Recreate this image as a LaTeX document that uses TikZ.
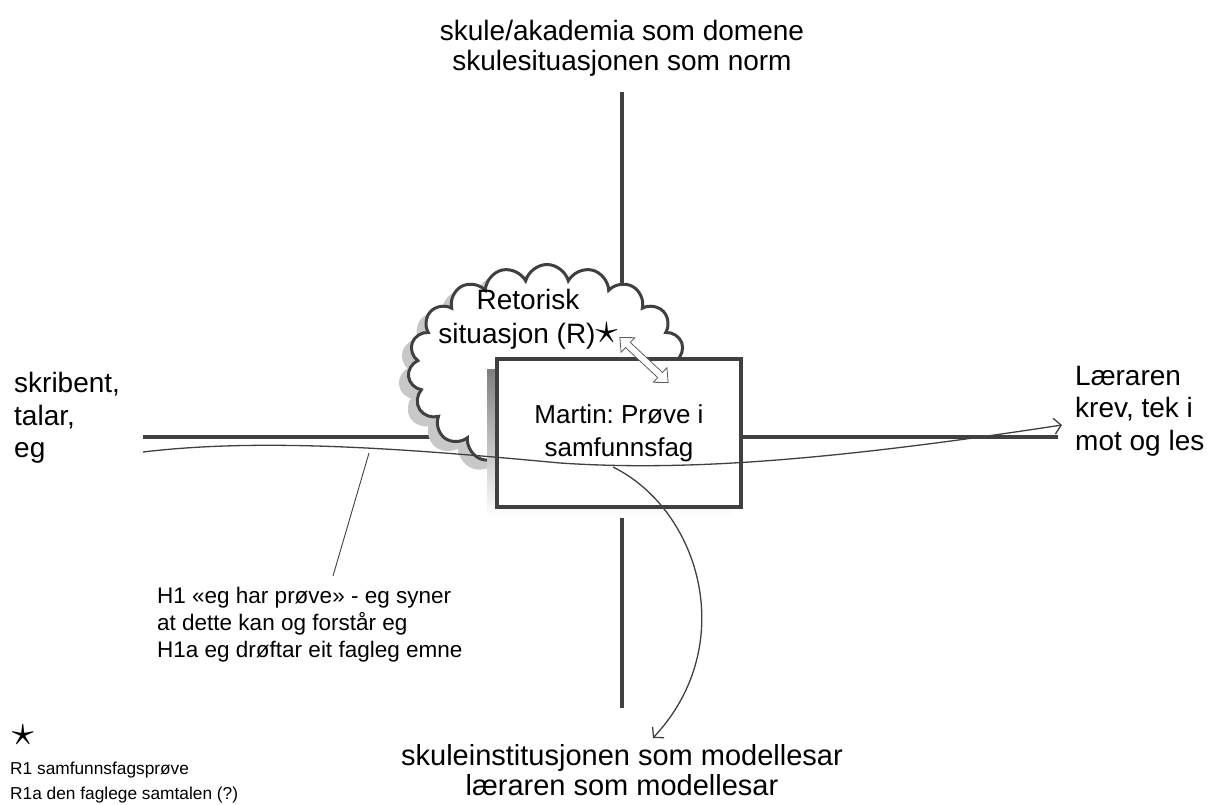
\documentclass[tikz,border=0pt]{standalone}
\usepackage{fontspec}
\setmainfont{Liberation Sans}
\usetikzlibrary{shapes.symbols,arrows.meta}
\definecolor{ink}{HTML}{404040}
\definecolor{shade}{HTML}{C8C8C8}

\begin{document}
\frenchspacing
\begin{tikzpicture}[x=1pt,y=-1pt,
  axis/.style={ink,line width=3.5pt},
  biglbl/.style={inner sep=0pt, font=\fontsize{28}{30}\selectfont},
  sidelbl/.style={inner sep=0pt, align=left, anchor=west, font=\fontsize{28}{32.5}\selectfont},
  thinline/.style={ink,line width=1.3pt},
  tip/.style={-{Straight Barb[length=7pt,width=16pt,line width=1.3pt]}},
  puffy/.style={cloud, cloud puffs=19, aspect=1.35, minimum width=278pt, minimum height=207pt, line width=3pt}
]
\useasboundingbox (0,0) rectangle (1210,805);

% axis end points
\coordinate (vtop) at (622,92);
\coordinate (vbot) at (622,708);
\coordinate (hleft) at (143,437);
\coordinate (hright) at (1058,437);

% the two axes
\draw[axis] (vtop) -- (vbot);
\draw[axis] (hleft) -- (hright);

% rhetorical situation cloud with its shadow
\node[puffy, fill=shade, draw=shade] (cloudshadow) at (539,376) {};
\node[puffy, fill=white, draw=ink] (cloud) at (547,368) {};
\node[inner sep=0pt, align=center, font=\fontsize{28}{34}\selectfont] (rettext) at (528,319)
  {Retorisk\\situasjon (R)\scalebox{1.8}{$\star$}};

% text box with its shadow
\fill[shade] (487,369) rectangle (731,517);
\node[draw=ink, line width=3.5pt, fill=white, minimum width=244pt, minimum height=148pt,
      inner sep=0pt, align=center, font=\fontsize{26}{33}\selectfont] (box) at (619,433)
  {Martin: Prøve i\\samfunnsfag};

% hollow double arrow between cloud and box
\begin{scope}[shift={(644,360)}, rotate=-43]
  \draw[ink!85, fill=white, line width=0.8pt, line join=miter]
    (-33,0) -- (-22,10) -- (-22,3.5) -- (22,3.5) -- (22,10) -- (33,0)
    -- (22,-10) -- (22,-3.5) -- (-22,-3.5) -- (-22,-10) -- cycle;
\end{scope}

% flowing line from writer to reader
\coordinate (wstart) at (143,452);
\coordinate (wmid) at (560,463);
\coordinate (wend) at (1062,425);
\draw[thinline, tip] (wstart) .. controls (260,438) and (400,448) .. (wmid)
      .. controls (680,471) and (820,462) .. (wend);

% curved arrow down to the model reader
\coordinate (dstart) at (613,467);
\coordinate (dend) at (653,738);
\draw[thinline, tip] (dstart) .. controls (700,510) and (740,645) .. (dend);

% leader from the note to the line
\coordinate (leadtop) at (369,453);
\coordinate (leadend) at (333,576);
\draw[ink, line width=0.9pt] (leadtop) -- (leadend);

% axis labels
\node[biglbl, align=center] (toplbl) at (622,48)
  {skule/akademia som domene\\skulesituasjonen som norm};
\node[biglbl, align=center, font=\fontsize{29}{30}\selectfont] (botlbl) at (622,770)
  {skuleinstitusjonen som modellesar\\læraren som modellesar};
\node[sidelbl] (leftlbl) at (14,418) {skribent,\\talar,\\eg};
\node[sidelbl] (rightlbl) at (1075,411) {Læraren\\krev, tek i\\mot og les};

% notes
\node[inner sep=0pt, align=left, anchor=west, font=\fontsize{22.5}{27}\selectfont] (note) at (157,625)
  {H1 «eg har prøve» - eg syner\\at dette kan og forstår eg\\H1a eg drøftar eit fagleg emne};
\node[inner sep=0pt] (star) at (23,735) {\scalebox{4.4}{$\star$}};
\node[inner sep=0pt, align=left, anchor=west, font=\fontsize{17.3}{25}\selectfont] (rlist) at (10,783)
  {R1 samfunnsfagsprøve\\R1a den faglege samtalen (?)};
\end{tikzpicture}
\end{document}
